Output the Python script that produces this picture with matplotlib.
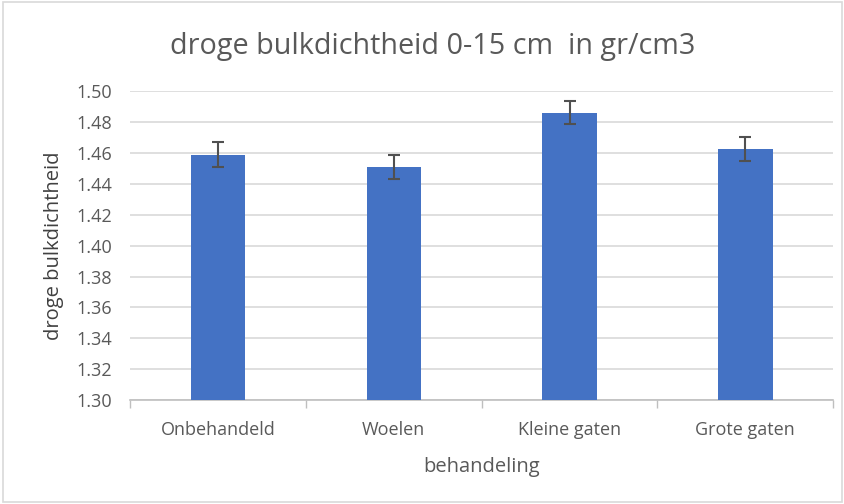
import numpy as np
import matplotlib.pyplot as plt
from matplotlib.patches import Rectangle

# data
behandelingen = ['Onbehandeld', 'Woelen', 'Kleine gaten', 'Grote gaten']
dichtheid = [1.459, 1.451, 1.486, 1.4625]
fout = [0.008, 0.0075, 0.0074, 0.0078]
yticks = [1.30, 1.32, 1.34, 1.36, 1.38, 1.40, 1.42, 1.44, 1.46, 1.48, 1.50]

plt.rcParams['font.family'] = ['Open Sans', 'DejaVu Sans']
grey = '#595959'

fig = plt.figure(figsize=(8.45, 5.04), dpi=100)
ax = fig.add_axes([0.154, 0.206, 0.832, 0.613])

x = np.arange(len(behandelingen))
ax.bar(x, dichtheid, width=0.31, color='#4472C4', zorder=3)
ax.errorbar(x, dichtheid, yerr=fout, fmt='none', ecolor='#505050',
            elinewidth=1.5, capsize=4, capthick=1.5, zorder=4)

ax.set_ylim(1.30, 1.50)
ax.set_xlim(-0.5, len(behandelingen) - 0.5)
ax.set_yticks(yticks)
ax.set_yticklabels(['%.2f' % v for v in yticks])
ax.set_xticks(x)
ax.set_xticklabels(behandelingen)
ax.set_xticks(np.arange(len(behandelingen) + 1) - 0.5, minor=True)
ax.tick_params(axis='x', which='major', length=0, pad=15, labelsize=13, colors=grey)
ax.tick_params(axis='x', which='minor', length=6, color='#bfbfbf', width=1)
ax.tick_params(axis='y', length=0, pad=13, labelsize=13, colors=grey)

ax.grid(axis='y', color='#d9d9d9', linewidth=1.2, zorder=0)
for s in ['top', 'right', 'left']:
    ax.spines[s].set_visible(False)
ax.spines['bottom'].set_color('#bfbfbf')
ax.spines['bottom'].set_linewidth(1.2)

ax.set_xlabel('behandeling', fontsize=14.5, color=grey, labelpad=13)
ax.set_ylabel('droge bulkdichtheid', fontsize=14.5, color='#404040', labelpad=9)
fig.text(0.512, 0.908, 'droge bulkdichtheid 0-15 cm  in gr/cm3', ha='center', va='center',
         fontsize=20.7, color=grey)

fig.patches.append(Rectangle((0.004, 0.004), 0.992, 0.992, transform=fig.transFigure,
                             fill=False, edgecolor='#d9d9d9', linewidth=1.2))

fig.savefig('out.png', dpi=100)
